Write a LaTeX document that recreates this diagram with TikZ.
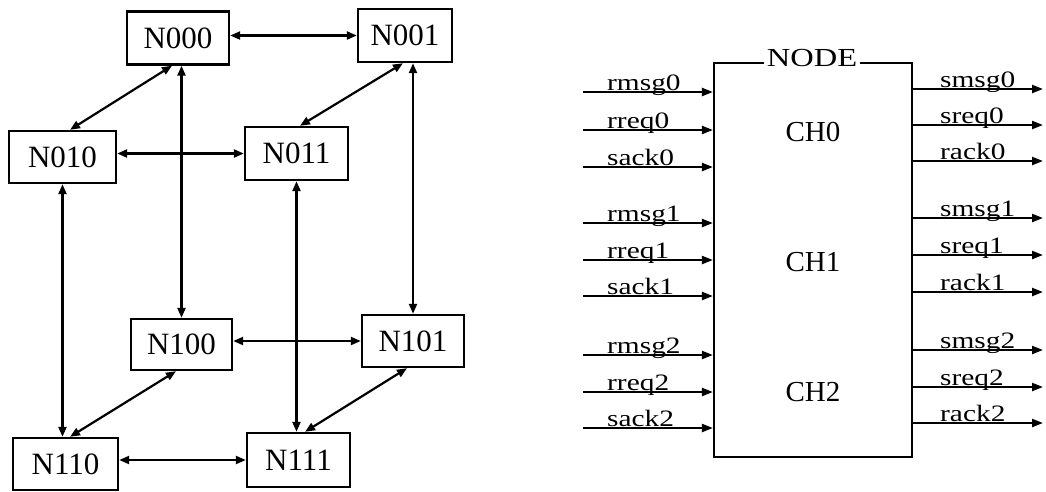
\documentclass[tikz,border=0pt]{standalone}
\usepackage{fontspec}
\setmainfont{Liberation Serif}
\newfontfamily\widefont[FakeStretch=1.25]{Liberation Serif}
\usetikzlibrary{arrows.meta}
\tikzset{
  cube/.style={draw, line width=2.4pt, inner sep=0pt, font=\fontsize{31}{31}\selectfont},
  link/.style={line width=2.2pt, {Triangle[length=10pt,width=8pt]}-{Triangle[length=10pt,width=8pt]}},
  port/.style={line width=2.2pt, -{Triangle[length=11pt,width=8pt]}},
  plabel/.style={anchor=base west, inner sep=0pt, font=\widefont\fontsize{23.5}{24}\selectfont},
  chlabel/.style={font=\fontsize{29}{29}\selectfont}
}
\begin{document}
\begin{tikzpicture}[x=1pt,y=-1pt]
\useasboundingbox (0,0) rectangle (1046,491);
% hypercube nodes
\node[cube, minimum width=102pt, minimum height=53pt] (N000) at (178,38) {N000};
\node[cube, minimum width=94pt,  minimum height=53pt] (N001) at (405,35.5) {N001};
\node[cube, minimum width=107pt, minimum height=52pt] (N010) at (62.5,157) {N010};
\node[cube, minimum width=103pt, minimum height=53pt] (N011) at (296.5,153.5) {N011};
\node[cube, minimum width=101pt, minimum height=51pt] (N100) at (181.5,344.5) {N100};
\node[cube, minimum width=102pt, minimum height=52pt] (N101) at (413,341) {N101};
\node[cube, minimum width=105pt, minimum height=52pt] (N110) at (65.5,464) {N110};
\node[cube, minimum width=103pt, minimum height=54pt] (N111) at (298.5,460) {N111};
% horizontal links
\draw[link] (N000.east |- N001.west) -- (N001.west);
\draw[link] (N010.east |- N011.west) -- (N011.west);
\draw[link] (N100.east |- N101.west) -- (N101.west);
\draw[link] (N110.east |- N111.west) -- (N111.west);
% diagonal links
\draw[link] ([xshift=-6pt]N000.south) -- ([xshift=7.5pt]N010.north);
\draw[link] ([xshift=-2pt]N001.south) -- ([xshift=3.5pt]N011.north);
\draw[link] ([xshift=-5.5pt]N100.south) -- ([xshift=4.5pt]N110.north);
\draw[link] ([xshift=-6pt]N101.south) -- ([xshift=6.5pt]N111.north);
% vertical links
\draw[link] (N000.south -| N100.north) -- (N100.north);
\draw[link] (N010.south) -- (N110.north -| N010.south);
\draw[link] (N011.south) -- (N111.north -| N011.south);
\draw[link] (N001.south -| N101.north) -- (N101.north);
% NODE block
\node[draw, line width=2.2pt, minimum width=198pt, minimum height=394pt, inner sep=0pt] (box) at (813,260) {};
\node[fill=white, inner xsep=3pt, inner ysep=0pt, anchor=base, font=\widefont\fontsize{26}{26}\selectfont] (nodetitle) at (812,66) {NODE};
\node[chlabel] (ch0) at (813,132) {CH0};
\node[chlabel] (ch1) at (813,262) {CH1};
\node[chlabel] (ch2) at (813,392) {CH2};
% inputs
\foreach \nm/\yy in {rmsg0/92, rreq0/130, sack0/167, rmsg1/223, rreq1/260, sack1/296, rmsg2/355, rreq2/392, sack2/428}{
  \coordinate (in-\nm) at (583,\yy);
  \draw[port] (in-\nm) -- (in-\nm -| box.west);
  \node[plabel] (lab-\nm) at (607,\yy-2) {\nm};
}
% outputs
\foreach \nm/\yy in {smsg0/89, sreq0/125, rack0/161, smsg1/218, sreq1/255, rack1/292, smsg2/350, sreq2/387, rack2/423}{
  \coordinate (out-\nm) at (1043,\yy);
  \draw[port] (out-\nm -| box.east) -- (out-\nm);
  \node[plabel] (lab-\nm) at (940,\yy-2) {\nm};
}
\end{tikzpicture}
\end{document}
